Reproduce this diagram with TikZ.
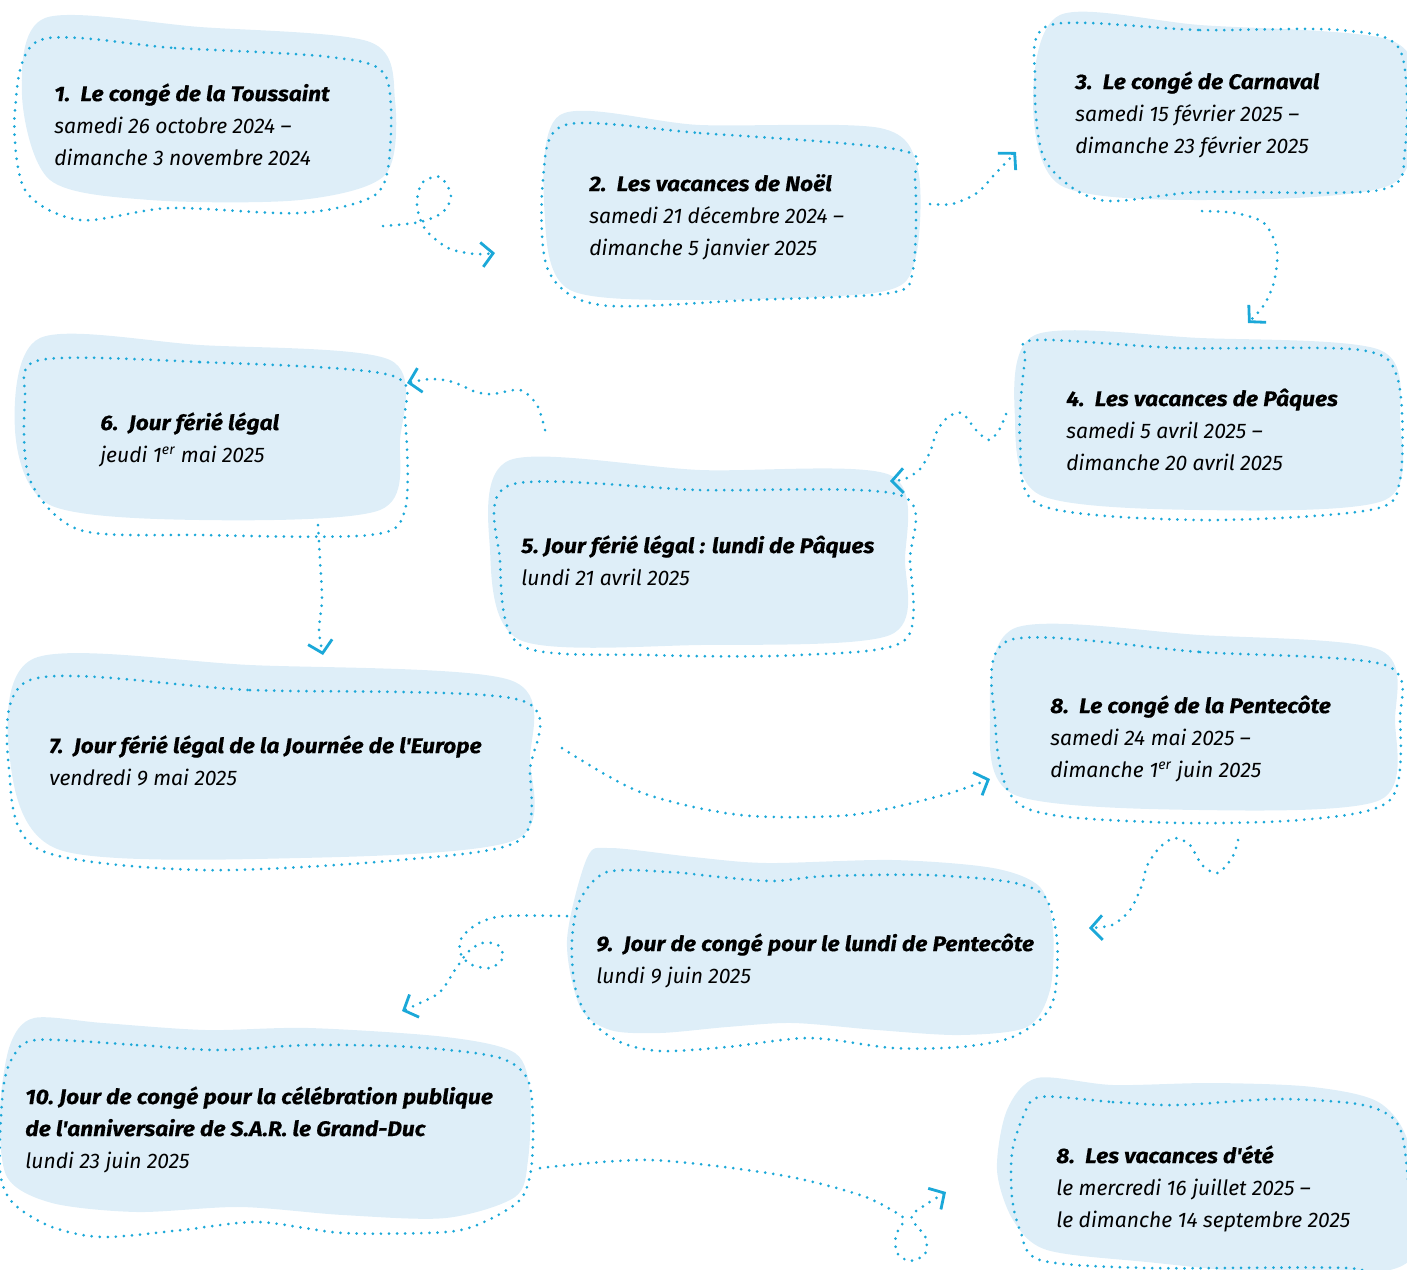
\documentclass[tikz,border=0pt]{standalone}
\usepackage{fontspec}
\setmainfont{Fira Sans}[Ligatures=TeXOff]
\usetikzlibrary{arrows.meta}
\definecolor{blobblue}{RGB}{222,238,248}
\definecolor{dotblue}{RGB}{27,168,216}
\newcommand\titleline[1]{\textbf{\addfontfeatures{FakeStretch=1.08,FakeBold=0.4}#1}}
\tikzset{
  blob/.style={fill=blobblue},
  dotline/.style={draw=dotblue,line width=1.7pt,line cap=round,
    dash pattern=on 0pt off 4.6pt},
  dotarrow/.style={dotline,
    -{Straight Barb[length=6.5pt,width=14pt,line width=1.6pt]}},
  label/.style={anchor=base west,inner sep=0pt,align=left,
    font=\fontsize{12}{18.2}\selectfont\itshape}
}
\begin{document}
\begin{tikzpicture}[x=0.02cm,y=-0.02cm]
    \useasboundingbox (0,0) rectangle (1407,1269);
    %% Blobs
    \fill[blob] plot[smooth cycle] coordinates {(22,95) (45,18) (200,27) (370,42)
        (395,100) (385,175) (300,200) (150,200) (50,180)};
    \draw[dotline] plot[smooth cycle] coordinates {(40,40) (175,48) (330,57) (385,75)
        (390,150) (375,195) (300,213) (170,208) (80,220) (25,190) (15,110)};
    \fill[blob] plot[smooth cycle] coordinates {(545,220) (560,115) (700,125) (880,128)
        (918,170) (915,260) (880,292) (700,300) (570,290)};
    \draw[dotline] plot[smooth cycle] coordinates {(565,125) (700,133) (900,150) (915,180)
        (913,270) (890,293) (750,300) (600,305) (548,270) (543,180)};
    \fill[blob] plot[smooth cycle] coordinates {(1033,100) (1060,15) (1200,25) (1390,40)
        (1415,100) (1390,185) (1200,200) (1060,185)};
    \draw[dotline] plot[smooth cycle] coordinates {(1050,25) (1200,30) (1340,30) (1400,50)
        (1405,150) (1380,190) (1200,192) (1100,200) (1045,160) (1035,80)};
    \fill[blob] plot[smooth cycle] coordinates {(1015,420) (1035,335) (1200,338) (1380,350)
        (1400,420) (1385,500) (1200,510) (1040,495)};
    \draw[dotline] plot[smooth cycle] coordinates {(1035,340) (1180,348) (1360,350) (1398,380)
        (1400,480) (1370,510) (1200,520) (1040,505) (1020,440) (1025,360)};
    \fill[blob] plot[smooth cycle] coordinates {(490,550) (510,460) (700,470) (890,475)
        (905,560) (890,635) (700,645) (520,640)};
    \draw[dotline] plot[smooth cycle] coordinates {(510,485) (700,490) (900,495) (910,560)
        (905,640) (800,655) (650,655) (520,645) (500,560)};
    \fill[blob] plot[smooth cycle] coordinates {(15,430) (40,338) (200,345) (390,360)
        (400,440) (380,510) (200,520) (50,505)};
    \draw[dotline] plot[smooth cycle] coordinates {(40,360) (200,362) (390,375) (405,420)
        (405,510) (370,535) (200,535) (80,530) (30,480) (25,400)};
    \fill[blob] plot[smooth cycle] coordinates {(10,760) (35,658) (250,665) (510,680)
        (530,760) (515,840) (300,858) (60,850)};
    \draw[dotline] plot[smooth cycle] coordinates {(30,680) (250,690) (520,700) (530,770)
        (520,840) (400,860) (200,870) (40,850) (10,780)};
    \fill[blob] plot[smooth cycle] coordinates {(990,720) (1015,628) (1200,635) (1380,650)
        (1395,720) (1380,800) (1200,810) (1015,795)};
    \draw[dotline] plot[smooth cycle] coordinates {(1010,640) (1200,652) (1385,665) (1400,720)
        (1390,800) (1300,820) (1150,822) (1020,805) (995,720)};
    \fill[blob] plot[smooth cycle] coordinates {(587,858) (610,848) (693,857) (767,863)
        (893,860) (993,868) (1040,887) (1053,930) (1050,990) (1027,1027) (960,1035)
        (877,1030) (793,1023) (727,1027) (660,1033) (610,1030) (580,1007) (567,940)};
    \draw[dotline] plot[smooth cycle] coordinates {(607,872) (670,872) (720,877) (773,881)
        (827,876) (927,875) (1010,882) (1045,897) (1057,940) (1055,993) (1043,1017)
        (1010,1038) (960,1047) (893,1048) (810,1038) (727,1047) (660,1051) (620,1042)
        (590,1020) (575,987) (572,940) (580,900)};
    \fill[blob] plot[smooth cycle] coordinates {(34,1018) (103,1023) (206,1030) (309,1028)
        (446,1037) (515,1053) (530,1093) (528,1160) (515,1197) (446,1218) (343,1215)
        (240,1207) (137,1212) (52,1203) (7,1177) (0,1110) (10,1045)};
    \draw[dotline] plot[smooth cycle] coordinates {(36,1040) (137,1045) (219,1050) (309,1045)
        (412,1047) (497,1057) (527,1078) (533,1120) (531,1170) (520,1200) (484,1222)
        (446,1232) (343,1233) (258,1222) (182,1230) (103,1237) (52,1227) (13,1203)
        (0,1170) (3,1090) (13,1057)};
    \fill[blob] plot[smooth cycle] coordinates {(1037,1078) (1113,1085) (1213,1083)
        (1313,1087) (1380,1103) (1410,1150) (1410,1260) (1300,1275) (1147,1262)
        (1047,1250) (1013,1220) (997,1170) (1007,1110)};
    \draw[dotline] plot[smooth cycle] coordinates {(1040,1097) (1113,1102) (1177,1105)
        (1280,1099) (1363,1105) (1397,1123) (1407,1170) (1410,1280) (1347,1268)
        (1147,1268) (1040,1260) (1020,1230) (1012,1197) (1012,1153) (1023,1117)};
    %% Texts (anchored at the baseline of the last line)
    \node[label] (toussaint) at (54,165) {\titleline{1.\ \ Le congé de la Toussaint}\\
        samedi 26 octobre 2024 –\\dimanche 3 novembre 2024};
    \node[label] (noel) at (589,255) {\titleline{2.\ \ Les vacances de Noël}\\
        samedi 21 décembre 2024 –\\dimanche 5 janvier 2025};
    \node[label] (carnaval) at (1075,153) {\titleline{3.\ \ Le congé de Carnaval}\\
        samedi 15 février 2025 –\\dimanche 23 février 2025};
    \node[label] (paques) at (1066,470) {\titleline{4.\ \ Les vacances de Pâques}\\
        samedi 5 avril 2025 –\\dimanche 20 avril 2025};
    \node[label] (lundipaques) at (521,585) {\titleline{5.\ Jour férié légal : lundi de Pâques}\\
        lundi 21 avril 2025};
    \node[label] (premiermai) at (100,462) {\titleline{6.\ \ Jour férié légal}\\
        jeudi 1\textsuperscript{er} mai 2025};
    \node[label] (europe) at (49,785) {\titleline{7.\ \ Jour férié légal de la Journée de l'Europe}\\
        vendredi 9 mai 2025};
    \node[label] (pentecote) at (1050,777) {\titleline{8.\ \ Le congé de la Pentecôte}\\
        samedi 24 mai 2025 –\\dimanche 1\textsuperscript{er} juin 2025};
    \node[label] (lundipentecote) at (596,983) {\titleline{9.\ \ Jour de congé pour le lundi de Pentecôte}\\
        lundi 9 juin 2025};
    \node[label] (granduc) at (25,1168) {\titleline{10.\ Jour de congé pour la célébration publique}\\
        \titleline{de l'anniversaire de S.A.R. le Grand-Duc}\\lundi 23 juin 2025};
    \node[label] (ete) at (1056,1227) {\titleline{8.\ \ Les vacances d'été}\\
        le mercredi 16 juillet 2025 –\\le dimanche 14 septembre 2025};
    %% Connector ends
    \coordinate (a1) at (383,226);   \coordinate (b1) at (495,253);
    \coordinate (a2) at (930,204);   \coordinate (b2) at (1016,152);
    \coordinate (a3) at (1202,211);  \coordinate (b3) at (1248,323);
    \coordinate (a4) at (1006,414);  \coordinate (b4) at (890,481);
    \coordinate (a5) at (545,430);   \coordinate (b5) at (407,383);
    \coordinate (a6) at (318,525);   \coordinate (b6) at (323,655);
    \coordinate (a7) at (562,748);   \coordinate (b7) at (990,779);
    \coordinate (a8) at (1238,840);  \coordinate (b8) at (1089,928);
    \coordinate (a9) at (567,916);   \coordinate (b9) at (402,1011);
    \coordinate (a10) at (540,1168); \coordinate (b10) at (946,1192);
    %% Connectors
    \draw[dotarrow] plot[smooth] coordinates {(a1) (420,222) (443,212) (451,195) (440,177)
        (422,183) (417,205) (425,229) (448,248) (475,254) (b1)};
    \draw[dotarrow] plot[smooth] coordinates {(a2) (952,204) (977,193) (995,174) (b2)};
    \draw[dotarrow] plot[smooth] coordinates {(a3) (1235,213) (1264,223) (1277,250)
        (1274,282) (1264,305) (b3)};
    \draw[dotarrow] plot[smooth] coordinates {(a4) (999,430) (989,440) (976,430) (962,413)
        (948,417) (937,431) (930,452) (920,469) (905,479) (b4)};
    \draw[dotarrow] plot[smooth] coordinates {(a5) (537,405) (520,390) (493,394) (476,392)
        (453,382) (431,379) (b5)};
    \draw[dotarrow] plot[smooth] coordinates {(a6) (320,560) (322,600) (319,630) (b6)};
    \draw[dotarrow] plot[smooth] coordinates {(a7) (640,792) (740,815) (850,815) (940,796)
        (b7)};
    \draw[dotarrow] plot[smooth] coordinates {(a8) (1233,856) (1218,873) (1202,865)
        (1190,845) (1175,838) (1160,847) (1147,866) (1142,885) (1130,910) (1112,925) (b8)};
    \draw[dotarrow] plot[smooth] coordinates {(a9) (505,916) (479,923) (462,937) (460,952)
        (470,964) (490,968) (503,958) (498,945) (482,943) (468,952) (455,970) (440,992)
        (420,1003) (b9)};
    \draw[dotarrow] plot[smooth] coordinates {(a10) (650,1160) (780,1175) (860,1195)
        (895,1212) (904,1220) (896,1235) (897,1253) (910,1261) (925,1254) (926,1238)
        (915,1224) (912,1215) (925,1205) (b10)};
\end{tikzpicture}
\end{document}
